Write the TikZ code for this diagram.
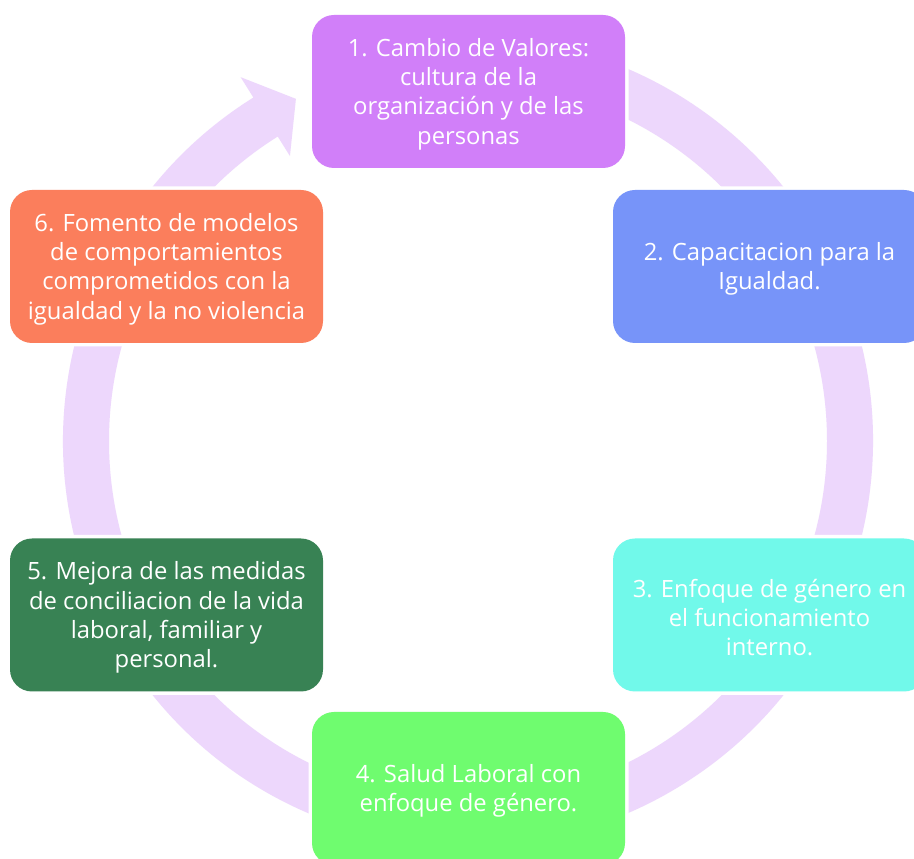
\documentclass[tikz,border=0pt]{standalone}
\usepackage{fontspec}
\setmainfont{Open Sans}
\usetikzlibrary{calc}
\definecolor{ringc}{HTML}{EDD7FC}
\definecolor{cpurple}{HTML}{D17FF9}
\definecolor{cblue}{HTML}{7794F9}
\definecolor{ccyan}{HTML}{71F9EA}
\definecolor{cgreen}{HTML}{6FFC6F}
\definecolor{cdgreen}{HTML}{388254}
\definecolor{corange}{HTML}{FB7E5C}
\tikzset{
  stagebox/.style={rounded corners=22pt, minimum width=313pt, minimum height=153pt,
    inner sep=0pt, preaction={draw=white, line width=7pt}},
  stagetext/.style={inner sep=0pt, align=center, text=white,
    font=\fontsize{23.8}{29.3}\selectfont},
}
\begin{document}
\begin{tikzpicture}[x=1pt,y=1pt]
\useasboundingbox[fill=white] (0,0) rectangle (914,859);
\coordinate (C) at (468,418);
% ring with arrow
\fill[ringc] ($(C)+(122:405)$) arc[start angle=122, end angle=450, radius=405pt]
  -- ($(C)+(450:359)$) arc[start angle=450, end angle=122, radius=359pt]
  -- ($(C)+(122:336)$) -- ($(C)+(116.7:383)$) -- ($(C)+(122:429)$) -- cycle;
% boxes
\node[stagebox, fill=cpurple] (b1) at (468.5,767.5) {};
\node[stagebox, fill=cblue] (b2) at (769.5,592.5) {};
\node[stagebox, fill=ccyan] (b3) at (769.5,244) {};
\node[stagebox, fill=cgreen] (b4) at (468.5,70.5) {};
\node[stagebox, fill=cdgreen] (b5) at (166.5,244) {};
\node[stagebox, fill=corange] (b6) at (166.5,592.5) {};
% texts
\node[stagetext] (t1) at ([yshift=-2.5pt]b1.center) {1. Cambio de Valores:\\cultura de la\\organización y de las\\personas};
\node[stagetext] (t2) at ([yshift=-2.5pt]b2.center) {2. Capacitacion para la\\Igualdad.};
\node[stagetext] (t3) at ([yshift=-2.5pt]b3.center) {3. Enfoque de género en\\el funcionamiento\\interno.};
\node[stagetext] (t4) at ([yshift=-2.5pt]b4.center) {4. Salud Laboral con\\enfoque de género.};
\node[stagetext] (t5) at ([yshift=-2.5pt]b5.center) {5. Mejora de las medidas\\de conciliacion de la vida\\laboral, familiar y\\personal.};
\node[stagetext] (t6) at ([yshift=-2.5pt]b6.center) {6. Fomento de modelos\\de comportamientos\\comprometidos con la\\igualdad y la no violencia};
\end{tikzpicture}
\end{document}
